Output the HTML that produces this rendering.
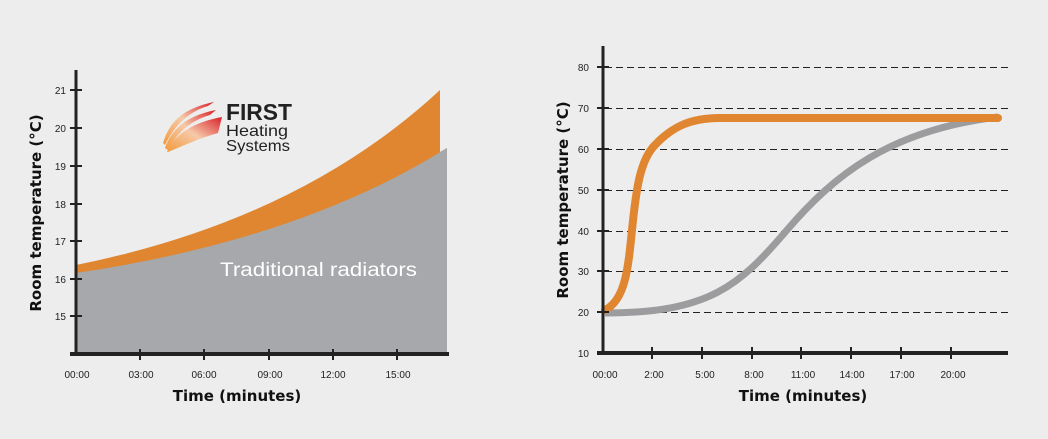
<!DOCTYPE html>
<html><head><meta charset="utf-8"><style>
body{margin:0;background:#ededed;}
svg{display:block}
.t{font-family:"Liberation Sans",sans-serif;font-size:10px;fill:#222}
.ax{font-family:"DejaVu Sans","Liberation Sans",sans-serif;font-weight:bold;font-size:15px;fill:#111}
</style></head><body>
<svg width="1048" height="439" viewBox="0 0 1048 439" xmlns="http://www.w3.org/2000/svg">
<rect width="1048" height="439" fill="#ededed"/>
<!-- left chart -->
<path d="M76,265 Q300,220 440,90 L440,152 L447,148 L447,354 L76,354 Z" fill="#e08631"/>
<path d="M76,273 Q300,240 447,148 L447,354 L76,354 Z" fill="#a7a8ab"/>
<line x1="76" y1="70" x2="76" y2="356" stroke="#222" stroke-width="3"/>
<line x1="70" y1="354" x2="449" y2="354" stroke="#222" stroke-width="4"/>
<g stroke="#222" stroke-width="2">
<line x1="70" y1="90" x2="82" y2="90"/><line x1="70" y1="128" x2="82" y2="128"/><line x1="70" y1="166" x2="82" y2="166"/><line x1="70" y1="204" x2="82" y2="204"/><line x1="70" y1="241" x2="82" y2="241"/><line x1="70" y1="279" x2="82" y2="279"/><line x1="70" y1="316" x2="82" y2="316"/>
<line x1="140" y1="349" x2="140" y2="360"/><line x1="204" y1="349" x2="204" y2="360"/><line x1="269" y1="349" x2="269" y2="360"/><line x1="333" y1="349" x2="333" y2="360"/><line x1="397" y1="349" x2="397" y2="360"/>
</g>
<g class="t" text-anchor="end">
<text x="66" y="94">21</text><text x="66" y="132">20</text><text x="66" y="170">19</text><text x="66" y="208">18</text><text x="66" y="245">17</text><text x="66" y="283">16</text><text x="66" y="320">15</text>
</g>
<g class="t" text-anchor="middle">
<text x="77" y="378">00:00</text><text x="141" y="378">03:00</text><text x="204" y="378">06:00</text><text x="270" y="378">09:00</text><text x="333" y="378">12:00</text><text x="398" y="378">15:00</text>
</g>
<text class="ax" x="237" y="401" text-anchor="middle">Time (minutes)</text>
<text class="ax" transform="translate(41,213) rotate(-90)" text-anchor="middle">Room temperature (°C)</text>
<text x="220" y="276" textLength="197" lengthAdjust="spacingAndGlyphs" font-family="Liberation Sans,sans-serif" font-size="19" fill="#fff">Traditional radiators</text>
<!-- logo -->
<defs><linearGradient id="lg" x1="0" y1="1" x2="1" y2="0"><stop offset="0" stop-color="#f39a3c"/><stop offset=".5" stop-color="#f6c9a8"/><stop offset="1" stop-color="#d9202a"/></linearGradient></defs>
<path d="M163,143 C170,120 185,108 214,102 L208,106 C188,112 175,125 165,145 Z" fill="url(#lg)"/>
<path d="M165,148 C172,127 190,115 216,110 L210,115 C190,121 178,132 168,150 Z" fill="url(#lg)"/>
<path d="M167,152 C175,133 195,122 222,117 L218,133 C200,138 185,145 168,152 Z" fill="url(#lg)"/>
<text x="226" y="120" textLength="66" lengthAdjust="spacingAndGlyphs" font-family="Liberation Sans,sans-serif" font-weight="bold" font-size="23" fill="#222">FIRST</text>
<text x="226" y="136" textLength="62" lengthAdjust="spacingAndGlyphs" font-family="Liberation Sans,sans-serif" font-size="16" fill="#222">Heating</text>
<text x="226" y="151" textLength="64" lengthAdjust="spacingAndGlyphs" font-family="Liberation Sans,sans-serif" font-size="16" fill="#222">Systems</text>
<!-- right chart -->
<g stroke="#222" stroke-width="1" stroke-dasharray="7,4">
<line x1="605" y1="67.5" x2="1008" y2="67.5"/><line x1="605" y1="108.5" x2="1008" y2="108.5"/><line x1="605" y1="149.5" x2="1008" y2="149.5"/><line x1="605" y1="190.5" x2="1008" y2="190.5"/><line x1="605" y1="231.5" x2="1008" y2="231.5"/><line x1="605" y1="271.5" x2="1008" y2="271.5"/><line x1="605" y1="312.5" x2="1008" y2="312.5"/>
</g>
<path d="M605,313 C710,313 740,285 787,230 S890,130 998,117" fill="none" stroke="#9c9c9e" stroke-width="7"/>
<path d="M605,310 C625,300 628,270 632,230 C636,190 640,160 655,145 C672,127 690,118 720,118 L998,118" fill="none" stroke="#e08631" stroke-width="8" stroke-linecap="round"/>
<line x1="603" y1="46" x2="603" y2="355" stroke="#222" stroke-width="3"/>
<line x1="597" y1="353" x2="1008" y2="353" stroke="#222" stroke-width="4"/>
<g stroke="#222" stroke-width="2">
<line x1="597" y1="67" x2="609" y2="67"/><line x1="597" y1="108" x2="609" y2="108"/><line x1="597" y1="149" x2="609" y2="149"/><line x1="597" y1="190" x2="609" y2="190"/><line x1="597" y1="231" x2="609" y2="231"/><line x1="597" y1="271" x2="609" y2="271"/><line x1="597" y1="312" x2="609" y2="312"/>
<line x1="652" y1="347" x2="652" y2="359"/><line x1="702" y1="347" x2="702" y2="359"/><line x1="752" y1="347" x2="752" y2="359"/><line x1="801" y1="347" x2="801" y2="359"/><line x1="851" y1="347" x2="851" y2="359"/><line x1="901" y1="347" x2="901" y2="359"/><line x1="951" y1="347" x2="951" y2="359"/>
</g>
<g class="t" text-anchor="end">
<text x="589" y="71">80</text><text x="589" y="112">70</text><text x="589" y="153">60</text><text x="589" y="194">50</text><text x="589" y="235">40</text><text x="589" y="275">30</text><text x="589" y="316">20</text><text x="589" y="357">10</text>
</g>
<g class="t" text-anchor="middle">
<text x="605" y="378">00:00</text><text x="654" y="378">2:00</text><text x="705" y="378">5:00</text><text x="754" y="378">8:00</text><text x="803" y="378">11:00</text><text x="852" y="378">14:00</text><text x="902" y="378">17:00</text><text x="953" y="378">20:00</text>
</g>
<text class="ax" x="803" y="401" text-anchor="middle">Time (minutes)</text>
<text class="ax" transform="translate(568,200) rotate(-90)" text-anchor="middle">Room temperature (°C)</text>
</svg>
</body></html>
